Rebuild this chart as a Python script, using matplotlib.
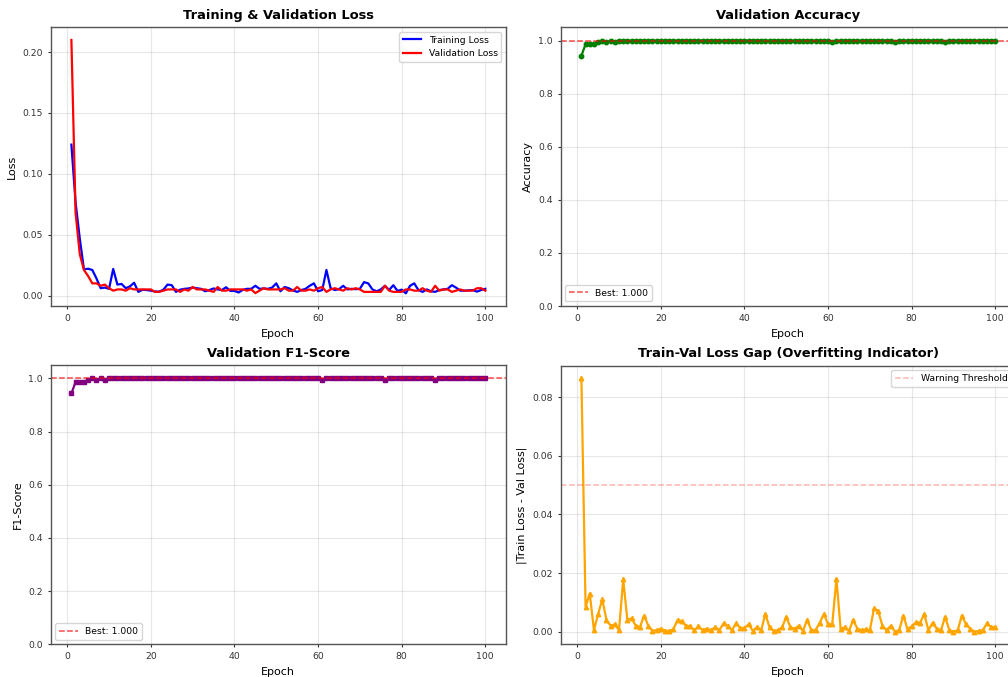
import matplotlib
matplotlib.use("Agg")
import matplotlib.pyplot as plt

epochs = list(range(1, 101))

train_loss = [
    0.124, 0.0765, 0.047, 0.0215, 0.022, 0.021, 0.014, 0.006, 0.0065, 0.0055,
    0.0218, 0.009, 0.0095, 0.006, 0.0075, 0.0105, 0.003, 0.0047, 0.0045, 0.004,
    0.0033, 0.0032, 0.0048, 0.009, 0.0085, 0.003, 0.0048, 0.0055, 0.0058, 0.0065,
    0.006, 0.0055, 0.0035, 0.0045, 0.0058, 0.005, 0.0045, 0.0068, 0.0038, 0.0038,
    0.0025, 0.0047, 0.0055, 0.0055, 0.008, 0.0055, 0.0058, 0.0055, 0.0065, 0.010,
    0.0035, 0.007, 0.006, 0.0042, 0.003, 0.0045, 0.0055, 0.008, 0.010, 0.0035,
    0.0045, 0.021, 0.006, 0.0045, 0.0052, 0.008, 0.005, 0.0055, 0.0052, 0.0055,
    0.011, 0.010, 0.005, 0.0035, 0.005, 0.008, 0.0045, 0.0085, 0.0038, 0.0048,
    0.0018, 0.008, 0.010, 0.0045, 0.003, 0.005, 0.0035, 0.003, 0.0045, 0.005,
    0.0055, 0.0085, 0.0065, 0.004, 0.004, 0.0042, 0.0045, 0.0032, 0.0045, 0.0055,
]

val_loss = [
    0.210, 0.068, 0.034, 0.021, 0.016, 0.010, 0.010, 0.008, 0.009, 0.006,
    0.004, 0.005, 0.005, 0.004, 0.006, 0.005, 0.005, 0.005, 0.005, 0.005,
    0.003, 0.003, 0.004, 0.005, 0.005, 0.005, 0.003, 0.005, 0.004, 0.007,
    0.005, 0.005, 0.005, 0.004, 0.003, 0.007, 0.004, 0.004, 0.005, 0.005,
    0.005, 0.005, 0.004, 0.005, 0.002, 0.004, 0.006, 0.005, 0.005, 0.005,
    0.005, 0.006, 0.004, 0.004, 0.007, 0.004, 0.004, 0.005, 0.004, 0.006,
    0.007, 0.003, 0.005, 0.006, 0.005, 0.004, 0.006, 0.005, 0.006, 0.005,
    0.003, 0.003, 0.003, 0.003, 0.003, 0.008, 0.004, 0.003, 0.003, 0.003,
    0.005, 0.005, 0.004, 0.004, 0.006, 0.004, 0.003, 0.008, 0.004, 0.005,
    0.005, 0.003, 0.004, 0.005, 0.004, 0.004, 0.004, 0.006, 0.006, 0.004,
]

val_acc = [
    0.943, 0.986, 0.986, 0.986, 0.993, 1.0, 0.993, 1.0, 0.993, 1.0,
    1.0, 1.0, 1.0, 1.0, 1.0, 1.0, 1.0, 1.0, 1.0, 1.0,
    1.0, 1.0, 1.0, 1.0, 1.0, 1.0, 1.0, 1.0, 1.0, 1.0,
    1.0, 1.0, 1.0, 1.0, 1.0, 1.0, 1.0, 1.0, 1.0, 1.0,
    1.0, 1.0, 1.0, 1.0, 1.0, 1.0, 1.0, 1.0, 1.0, 1.0,
    1.0, 1.0, 1.0, 1.0, 1.0, 1.0, 1.0, 1.0, 1.0, 1.0,
    0.993, 1.0, 1.0, 1.0, 1.0, 1.0, 1.0, 1.0, 1.0, 1.0,
    1.0, 1.0, 1.0, 1.0, 1.0, 0.993, 1.0, 1.0, 1.0, 1.0,
    1.0, 1.0, 1.0, 1.0, 1.0, 1.0, 1.0, 0.993, 1.0, 1.0,
    1.0, 1.0, 1.0, 1.0, 1.0, 1.0, 1.0, 1.0, 1.0, 1.0,
]

val_f1 = [
    0.943, 0.986, 0.986, 0.986, 0.993, 1.0, 0.993, 1.0, 0.993, 1.0,
    1.0, 1.0, 1.0, 1.0, 1.0, 1.0, 1.0, 1.0, 1.0, 1.0,
    1.0, 1.0, 1.0, 1.0, 1.0, 1.0, 1.0, 1.0, 1.0, 1.0,
    1.0, 1.0, 1.0, 1.0, 1.0, 1.0, 1.0, 1.0, 1.0, 1.0,
    1.0, 1.0, 1.0, 1.0, 1.0, 1.0, 1.0, 1.0, 1.0, 1.0,
    1.0, 1.0, 1.0, 1.0, 1.0, 1.0, 1.0, 1.0, 1.0, 1.0,
    0.993, 1.0, 1.0, 1.0, 1.0, 1.0, 1.0, 1.0, 1.0, 1.0,
    1.0, 1.0, 1.0, 1.0, 1.0, 0.993, 1.0, 1.0, 1.0, 1.0,
    1.0, 1.0, 1.0, 1.0, 1.0, 1.0, 1.0, 0.993, 1.0, 1.0,
    1.0, 1.0, 1.0, 1.0, 1.0, 1.0, 1.0, 1.0, 1.0, 1.0,
]

loss_gap = [
    0.0865, 0.0085, 0.013, 0.0005, 0.006, 0.011, 0.004, 0.002, 0.0025, 0.0005,
    0.0178, 0.004, 0.0045, 0.002, 0.0015, 0.0055, 0.002, 0.0003, 0.0005, 0.001,
    0.0003, 0.0002, 0.0008, 0.004, 0.0035, 0.002, 0.0018, 0.0005, 0.0018, 0.0005,
    0.001, 0.0005, 0.0015, 0.0005, 0.0028, 0.002, 0.0005, 0.0028, 0.0012, 0.0012,
    0.0025, 0.0003, 0.0015, 0.0005, 0.006, 0.0015, 0.0002, 0.0005, 0.0015, 0.005,
    0.0015, 0.001, 0.002, 0.0002, 0.004, 0.0005, 0.0005, 0.003, 0.006, 0.0025,
    0.0025, 0.018, 0.001, 0.0015, 0.0002, 0.004, 0.001, 0.0005, 0.0008, 0.0005,
    0.008, 0.007, 0.002, 0.0005, 0.002, 0.0, 0.0005, 0.0055, 0.0008, 0.0018,
    0.0032, 0.003, 0.006, 0.0005, 0.003, 0.001, 0.0005, 0.005, 0.0005, 0.0,
    0.0005, 0.0055, 0.0025, 0.001, 0.0, 0.0002, 0.0005, 0.0028, 0.0015, 0.0015,
]

warning_threshold = 0.05

S = 2.0 / 3.0
plt.rcParams.update({
    "font.size": 10 * S,
    "axes.labelsize": 12 * S,
    "axes.titlesize": 14 * S,
    "xtick.labelsize": 10 * S,
    "ytick.labelsize": 10 * S,
    "legend.fontsize": 10 * S,
    "axes.edgecolor": "#555555",
    "axes.linewidth": 1.0,
    "xtick.major.size": 3.5 * S,
    "ytick.major.size": 3.5 * S,
    "xtick.major.width": 0.8,
    "ytick.major.width": 0.8,
    "xtick.color": "#333333",
    "ytick.color": "#333333",
})

W, H = 1008, 677
fig = plt.figure(figsize=(W / 100, H / 100), dpi=100)


def rect(x0, y0, x1, y1):
    return [x0 / W, 1 - y1 / H, (x1 - x0) / W, (y1 - y0) / H]


aw = 455.3
ax1 = fig.add_axes(rect(50.7, 27.3, 50.7 + aw, 306.0))
ax2 = fig.add_axes(rect(560.7, 27.3, 560.7 + aw, 306.0))
ax3 = fig.add_axes(rect(50.7, 365.0, 50.7 + aw, 644.3))
ax4 = fig.add_axes(rect(560.7, 365.5, 560.7 + aw, 644.3))

lw = 1.6
ms = 3.2

# Loss
ax1.plot(epochs, train_loss, color="blue", linewidth=lw, label="Training Loss")
ax1.plot(epochs, val_loss, color="red", linewidth=lw, label="Validation Loss")
ax1.set_title("Training & Validation Loss", fontweight="bold")
ax1.set_xlabel("Epoch")
ax1.set_ylabel("Loss")
ax1.legend(loc="upper right")
ax1.grid(True, alpha=0.3)

# Accuracy
best_acc = max(val_acc)
ax2.plot(epochs, val_acc, color="green", linewidth=lw, marker="o", markersize=ms)
ax2.axhline(y=best_acc, color="r", linestyle="--", alpha=0.7, linewidth=1.1,
            label=f"Best: {best_acc:.3f}")
ax2.set_title("Validation Accuracy", fontweight="bold")
ax2.set_xlabel("Epoch")
ax2.set_ylabel("Accuracy")
ax2.set_ylim(0, 1.05)
ax2.legend(loc="lower left")
ax2.grid(True, alpha=0.3)

# F1
best_f1 = max(val_f1)
ax3.plot(epochs, val_f1, color="purple", linewidth=lw, marker="s", markersize=ms)
ax3.axhline(y=best_f1, color="r", linestyle="--", alpha=0.7, linewidth=1.1,
            label=f"Best: {best_f1:.3f}")
ax3.set_title("Validation F1-Score", fontweight="bold")
ax3.set_xlabel("Epoch")
ax3.set_ylabel("F1-Score")
ax3.set_ylim(0, 1.05)
ax3.legend(loc="lower left")
ax3.grid(True, alpha=0.3)

# Gap
ax4.plot(epochs, loss_gap, color="orange", linewidth=lw, marker="^", markersize=ms)
ax4.axhline(y=warning_threshold, color="r", linestyle="--", alpha=0.3, linewidth=1.1,
            label="Warning Threshold")
ax4.set_title("Train-Val Loss Gap (Overfitting Indicator)", fontweight="bold")
ax4.set_xlabel("Epoch")
ax4.set_ylabel("|Train Loss - Val Loss|")
ax4.legend(loc="upper right")
ax4.grid(True, alpha=0.3)

fig.savefig("out.png", dpi=100)
